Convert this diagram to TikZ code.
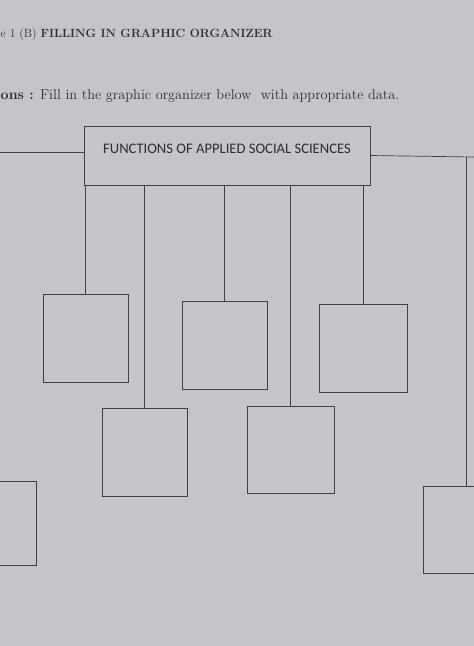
\documentclass[tikz,border=0pt]{standalone}
\usepackage{fontspec}
\newfontfamily\boxfont{Carlito}
\definecolor{paper}{RGB}{198,196,201}
\definecolor{ink}{RGB}{64,64,70}
\definecolor{print}{RGB}{45,45,50}

\begin{document}
\begin{tikzpicture}[x=1pt, y=-1pt,
    blank/.style={draw=ink, line width=0.7pt, minimum width=85pt, minimum height=88pt, inner sep=0pt},
    link/.style={draw=ink, line width=0.7pt}]
      \clip (0,0) rectangle (474,646);
      \fill[paper] (0,0) rectangle (474,646);

      \node[anchor=base west, inner sep=0pt, text=print, font=\fontsize{11.9}{15}\selectfont] (head) at (0.5,37) {e 1 (B) \textbf{FILLING IN GRAPHIC ORGANIZER}};
      \node[anchor=base west, inner sep=0pt, text=print, font=\fontsize{14.3}{17}\selectfont] (task) at (0.5,99) {\textbf{ons :} Fill in the graphic organizer below\ \ with appropriate data.};

      \node[draw=ink, line width=0.9pt, minimum width=286pt, minimum height=59pt, inner sep=0pt, text=print, font=\boxfont\fontsize{14.6}{16}\selectfont] (title) at (227,155.5) {\raisebox{14pt}{FUNCTIONS OF APPLIED SOCIAL SCIENCES}};

      \node[blank] (1) at (85.5,338.5) {};
      \node[blank] (2) at (224.5,345) {};
      \node[blank, minimum width=88pt] (3) at (363,348.5) {};
      \node[blank] (4) at (144.5,452) {};
      \node[blank, minimum width=87pt, minimum height=87pt] (5) at (290.5,449.5) {};
      \node[blank, minimum width=86pt, minimum height=84pt] (6) at (-7,523.5) {};
      \node[blank, minimum width=86pt, minimum height=87pt] (7) at (466,529.5) {};

      \coordinate (lend) at (0,152);
      \coordinate (rend) at (474,157);

      \draw[link] (lend) -- (title.west |- lend);
      \draw[link] (title.east) -- (rend);
      \draw[link] (7.north |- rend) -- (7.north);
      \foreach \b in {1,...,5}
        \draw[link] (\b.north |- title.south) -- (\b.north);
    \end{tikzpicture}
\end{document}
